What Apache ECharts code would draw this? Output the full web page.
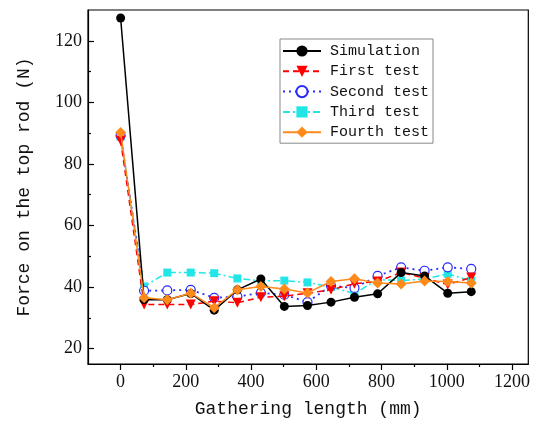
<!DOCTYPE html>
<html><head><meta charset="utf-8">
<script src="https://cdn.jsdelivr.net/npm/echarts@6/dist/echarts.min.js"></script>
<style>html,body{margin:0;padding:0;background:#fff}#c{width:533px;height:428px}</style>
</head><body><div id="c"></div>
<script>
const xValues = [0, 72, 143, 215, 287, 358, 430, 502, 573, 645, 717, 788, 860, 932, 1003, 1075];
const simulation = [127.4, 35.9, 35.9, 37.9, 32.5, 39.1, 42.6, 33.7, 34.0, 35.1, 36.7, 37.8, 44.7, 43.6, 38.0, 38.5];
const firstTest  = [87.6, 34.3, 34.3, 34.3, 35.4, 34.9, 36.7, 37.0, 38.0, 39.1, 41.1, 41.8, 44.7, 42.9, 40.8, 43.1];
const secondTest = [89.2, 38.8, 38.9, 39.1, 36.5, 36.9, 38.1, 37.5, 35.1, 40.4, 39.7, 43.6, 46.4, 45.3, 46.4, 45.9];
const thirdTest  = [88.8, 40.2, 44.7, 44.7, 44.5, 42.8, 42.0, 42.1, 41.5, 40.0, 37.9, 42.4, 42.1, 42.6, 44.3, 42.0];
const fourthTest = [90.2, 36.5, 35.9, 38.0, 33.3, 39.1, 40.2, 39.4, 38.1, 41.8, 42.7, 41.3, 41.0, 42.0, 41.8, 41.3];
const xMajorTicks = [0, 200, 400, 600, 800, 1000, 1200];
const xMinorTicks = [100, 300, 500, 700, 900, 1100];
const yMajorTicks = [20, 40, 60, 80, 100, 120];
const yMinorTicks = [30, 50, 70, 90, 110];
const seriesNames = ['Simulation', 'First test', 'Second test', 'Third test', 'Fourth test'];

const pair = arr => xValues.map((x, i) => [x, arr[i]]);
const mono = 'Liberation Mono';
const serif = 'Liberation Serif';
const plain = v => String(v);

const chart = echarts.init(document.getElementById('c'));
const baseX = {type: 'value', min: -100, max: 1250, gridIndex: 0, position: 'bottom'};
const baseY = {type: 'value', min: 15, max: 130, gridIndex: 0, position: 'left'};
chart.setOption({
  animation: false,
  grid: {left: 88, right: 4, top: 10, bottom: 64, show: true, borderColor: '#000', borderWidth: 1.2},
  legend: {
    orient: 'vertical', left: 280, top: 39,
    padding: [4, 4, 3, 2],
    itemWidth: 38, itemHeight: 14, itemGap: 4.3,
    borderColor: '#888', borderWidth: 1, backgroundColor: '#fff',
    textStyle: {fontFamily: mono, fontSize: 15, color: '#111', lineHeight: 16, padding: [0, 0, 0, 4]},
    data: seriesNames
  },
  xAxis: [
    Object.assign({}, baseX, {
      name: 'Gathering length (mm)', nameLocation: 'middle', nameGap: 36,
      nameTextStyle: {fontFamily: mono, fontSize: 18, color: '#111'},
      axisLine: {show: true, onZero: false, lineStyle: {color: '#000', width: 1.2}},
      axisTick: {show: true, inside: false, length: 6, customValues: xMajorTicks, lineStyle: {color: '#000', width: 1.2}},
      axisLabel: {customValues: xMajorTicks, formatter: plain, fontFamily: serif, fontSize: 18, color: '#111', margin: 9},
      splitLine: {show: false}
    }),
    Object.assign({}, baseX, {
      axisLine: {show: false, onZero: false},
      axisTick: {show: true, inside: false, length: 3, customValues: xMinorTicks, lineStyle: {color: '#000', width: 1.2}},
      axisLabel: {show: false},
      splitLine: {show: false}
    })
  ],
  yAxis: [
    Object.assign({}, baseY, {
      name: 'Force on the top rod (N)', nameLocation: 'middle', nameGap: 55,
      nameTextStyle: {fontFamily: mono, fontSize: 18, color: '#111'},
      axisLine: {show: true, onZero: false, lineStyle: {color: '#000', width: 1.2}},
      axisTick: {show: true, inside: true, length: 6, customValues: yMajorTicks, lineStyle: {color: '#000', width: 1.2}},
      axisLabel: {customValues: yMajorTicks, formatter: plain, fontFamily: serif, fontSize: 18, color: '#111', margin: 6},
      splitLine: {show: false}
    }),
    Object.assign({}, baseY, {
      axisLine: {show: false, onZero: false},
      axisTick: {show: true, inside: true, length: 3, customValues: yMinorTicks, lineStyle: {color: '#000', width: 1.2}},
      axisLabel: {show: false},
      splitLine: {show: false}
    })
  ],
  series: [
    {name: seriesNames[0], type: 'line', data: pair(simulation), symbol: 'circle', symbolSize: 9,
     itemStyle: {color: '#000'}, lineStyle: {color: '#000', width: 1.5, type: 'solid'}, z: 5},
    {name: seriesNames[1], type: 'line', data: pair(firstTest), symbol: 'triangle', symbolRotate: 180, symbolSize: 10,
     itemStyle: {color: '#ff0000'}, lineStyle: {color: '#ff0000', width: 1.5, type: [6, 4]}, z: 4},
    {name: seriesNames[2], type: 'line', data: pair(secondTest), symbol: 'circle', symbolSize: 9,
     itemStyle: {color: '#ffffff', borderColor: '#2a2aff', borderWidth: 1.2}, lineStyle: {color: '#2a2aff', width: 1.8, type: [2, 4]}, z: 3},
    {name: seriesNames[3], type: 'line', data: pair(thirdTest), symbol: 'rect', symbolSize: 8,
     itemStyle: {color: '#22e6e6'}, lineStyle: {color: '#22e6e6', width: 1.5, type: [7, 3, 2, 3]}, z: 2},
    {name: seriesNames[4], type: 'line', data: pair(fourthTest), symbol: 'diamond', symbolSize: 11,
     itemStyle: {color: '#ff8a1c'}, lineStyle: {color: '#ff8a1c', width: 1.5, type: 'solid'}, z: 6}
  ]
});
</script></body></html>
